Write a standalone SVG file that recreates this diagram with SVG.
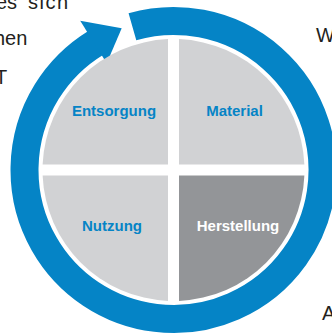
<svg xmlns="http://www.w3.org/2000/svg" width="332" height="335" viewBox="0 0 332 335">
<style>
.bg{font-family:"Liberation Sans",Arial,sans-serif;font-size:20px;fill:#231f20}
.lbl{font-family:"Liberation Sans",Arial,sans-serif;font-size:15px;font-weight:bold;text-anchor:middle}
.blue{fill:#0584c6}
.light{fill:#d1d2d4}
.dark{fill:#939598}
</style>
<rect width="332" height="335" fill="#ffffff"/>
<g id="page-text">
<text class="bg" x="-4" y="9">es</text>
<text class="bg" x="28" y="9" textLength="40">sich</text>
<text class="bg" x="-6" y="45">hen</text>
<text class="bg" x="-5" y="84">T</text>
<text class="bg" x="316" y="42">W</text>
<text class="bg" x="322" y="320">A</text>
</g>
<g id="connectors">
<path d="M132.43,26.77 A149,149 0 1 1 95.65,42.96" fill="none" stroke="#0584c6" stroke-width="28"/>
<polygon class="blue" points="80.2,20.75 121.7,28.3 106.7,63.2"/>
</g>
<g id="entsorgung">
<path class="light" d="M168,164.5 L168,39.12 A131,131 0 0 0 42.62,164.5 Z"/>
<text class="lbl blue" x="114" y="116">Entsorgung</text>
</g>
<g id="material">
<path class="light" d="M179,164.5 L304.38,164.5 A131,131 0 0 0 179,39.12 Z"/>
<text class="lbl blue" x="234.5" y="116">Material</text>
</g>
<g id="nutzung">
<path class="light" d="M168,175.5 L42.62,175.5 A131,131 0 0 0 168,300.88 Z"/>
<text class="lbl blue" x="112" y="231">Nutzung</text>
</g>
<g id="herstellung">
<path class="dark" d="M179,175.5 L179,300.88 A131,131 0 0 0 304.38,175.5 Z"/>
<text class="lbl" fill="#ffffff" x="238" y="231">Herstellung</text>
</g>
</svg>
